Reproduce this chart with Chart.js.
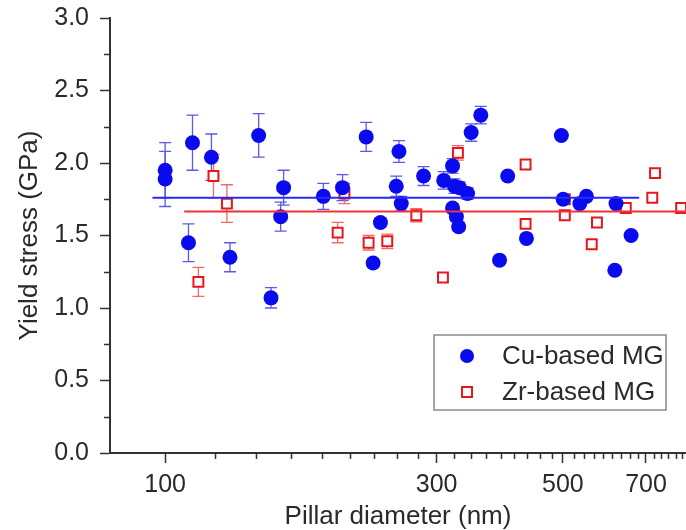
<!DOCTYPE html>
<html><head><meta charset="utf-8">
<script src="https://cdn.jsdelivr.net/npm/chart.js@4.4.0/dist/chart.umd.min.js"></script>
<style>html,body{margin:0;padding:0;background:#fff;overflow:hidden}</style>
</head><body>
<canvas id="c" width="686" height="530"></canvas>
<script>
// ---- data ----
const cuDiameter = [100, 100, 111.7, 120.6, 109.9, 130, 146, 161.5, 159.6, 153.5, 189.7, 205, 225.6, 257.6, 254.8, 260, 239, 232, 284.6, 308.7, 320, 358.7, 345, 322.5, 329, 340, 320, 325, 328, 400, 387, 431.5, 497, 500.6, 535.6, 550, 620, 659, 617];
const cuStress   = [1.95, 1.89, 2.14, 2.04, 1.45, 1.35, 2.19, 1.83, 1.63, 1.07, 1.77, 1.83, 2.18, 2.08, 1.84, 1.72, 1.59, 1.31, 1.91, 1.88, 1.98, 2.33, 2.21, 1.84, 1.83, 1.79, 1.69, 1.63, 1.56, 1.91, 1.33, 1.48, 2.19, 1.75, 1.72, 1.77, 1.72, 1.50, 1.26];
const cuError    = [0.19, 0.19, 0.19, 0.16, 0.13, 0.10, 0.15, 0.12, 0.10, 0.07, 0.09, 0.09, 0.10, 0.075, 0.07, 0.05, 0.03, 0.03, 0.065, 0.06, 0.05, 0.06, 0.06, 0.05, 0.04, 0.04, 0.03, 0.03, 0.03, 0, 0, 0, 0, 0, 0, 0, 0, 0, 0];

const zrDiameter = [121.6, 128.4, 114.4, 201, 206.6, 227.8, 245.7, 276.3, 307.8, 327, 430, 430, 504, 504, 574, 562, 645, 726, 718, 807];
const zrStress   = [1.91, 1.72, 1.18, 1.52, 1.79, 1.45, 1.46, 1.64, 1.21, 2.07, 1.99, 1.58, 1.75, 1.64, 1.59, 1.44, 1.69, 1.93, 1.76, 1.69];
const zrError    = [0.15, 0.13, 0.10, 0.07, 0.07, 0.05, 0.05, 0.045, 0, 0.05, 0, 0, 0, 0, 0, 0, 0, 0, 0, 0];

const cuMeanX = [95, 681];   const cuMeanY = [1.76, 1.76];
const zrMeanX = [108, 823];  const zrMeanY = [1.665, 1.665];

const xTickValues = [100, 300, 500, 700];
const xMinorTicks = [122.2,144.4,166.7,188.9,211.1,233.3,255.6,277.8, 322.2,344.4,366.7,388.9,411.1,433.3,455.6,477.8, 522.2,544.4,566.7,588.9,611.1,633.3,655.6,677.8, 722.2,744.4,766.7,788.9,811.1];
const yTickValues = [0, 0.5, 1.0, 1.5, 2.0, 2.5, 3.0];
const yMinorTicks = [0.25, 0.75, 1.25, 1.75, 2.25, 2.75];

const seriesLabels = ['Cu-based MG', 'Zr-based MG'];

// ---- styles ----
const FONT = '"Liberation Sans", Arial, sans-serif';
const TXT = '#2a2a2a';
const BLUE = '#0a0aee';
const RED = '#e8161c';

const pts = (xs, ys) => xs.map((v, i) => ({x: v, y: ys[i]}));

const errorBars = {
  id: 'errorBars',
  beforeDatasetsDraw(chart) {
    const {ctx, scales: {x, y}} = chart;
    chart.data.datasets.forEach(ds => {
      if (!ds.errors) return;
      ctx.save();
      ctx.strokeStyle = ds.errorColor;
      ctx.lineWidth = 1.3;
      ds.data.forEach((p, i) => {
        const e = ds.errors[i];
        if (!e) return;
        const px = x.getPixelForValue(p.x);
        const y1 = y.getPixelForValue(p.y + e), y2 = y.getPixelForValue(p.y - e);
        ctx.beginPath();
        ctx.moveTo(px, y1); ctx.lineTo(px, y2);
        ctx.moveTo(px - 6, y1); ctx.lineTo(px + 6, y1);
        ctx.moveTo(px - 6, y2); ctx.lineTo(px + 6, y2);
        ctx.stroke();
      });
      ctx.restore();
    });
  }
};

const minorTicks = {
  id: 'minorTicks',
  afterDraw(chart) {
    const {ctx, scales: {x, y}, chartArea} = chart;
    ctx.save();
    ctx.strokeStyle = '#333';
    ctx.lineWidth = 1.5;
    ctx.beginPath();
    xMinorTicks.forEach(v => {
      const px = Math.round(x.getPixelForValue(v)) + 0.5;
      if (px > chartArea.right) return;
      ctx.moveTo(px, chartArea.bottom); ctx.lineTo(px, chartArea.bottom + 6);
    });
    yMinorTicks.forEach(v => {
      const py = Math.round(y.getPixelForValue(v)) + 0.5;
      ctx.moveTo(chartArea.left - 6, py); ctx.lineTo(chartArea.left, py);
    });
    ctx.stroke();
    ctx.restore();
  }
};

const boxLegend = {
  id: 'boxLegend',
  afterDraw(chart) {
    const {ctx, chartArea} = chart;
    const bx = chartArea.right - 252, by = chartArea.bottom - 118, bw = 232, bh = 75;
    ctx.save();
    ctx.fillStyle = '#fff';
    ctx.fillRect(bx, by, bw, bh);
    ctx.strokeStyle = '#8a8a8a';
    ctx.lineWidth = 1.5;
    ctx.strokeRect(bx, by, bw, bh);
    const ds = [chart.data.datasets[2], chart.data.datasets[3]];
    const rows = [by + 21, by + 57];
    ds.forEach((d, i) => {
      const cx = bx + 33, cy = rows[i];
      if (d.pointStyle === 'circle') {
        ctx.fillStyle = d.backgroundColor;
        ctx.beginPath(); ctx.arc(cx, cy, 7, 0, Math.PI * 2); ctx.fill();
      } else {
        ctx.strokeStyle = d.borderColor; ctx.lineWidth = 2;
        ctx.fillStyle = '#fff';
        ctx.fillRect(cx - 5, cy - 5, 10, 10);
        ctx.strokeRect(cx - 5, cy - 5, 10, 10);
      }
      ctx.fillStyle = TXT;
      ctx.font = '26px ' + FONT;
      ctx.textBaseline = 'middle';
      ctx.textAlign = 'left';
      ctx.fillText(d.label, bx + 68, cy + 1);
    });
    ctx.restore();
  }
};

new Chart(document.getElementById('c'), {
  type: 'scatter',
  data: {
    datasets: [
      {label: 'Cu mean', data: pts(cuMeanX, cuMeanY), showLine: true, borderColor: '#2a2af2', borderWidth: 2, pointRadius: 0, clip: false},
      {label: 'Zr mean', data: pts(zrMeanX, zrMeanY), showLine: true, borderColor: '#f03236', borderWidth: 2, pointRadius: 0, clip: false},
      {label: seriesLabels[0], data: pts(cuDiameter, cuStress), errors: cuError, errorColor: '#5a5ae6',
       pointStyle: 'circle', pointRadius: 7.5, backgroundColor: BLUE, borderColor: BLUE, borderWidth: 0, clip: false},
      {label: seriesLabels[1], data: pts(zrDiameter, zrStress), errors: zrError, errorColor: '#f06a6a',
       pointStyle: 'rect', pointRadius: 7, backgroundColor: '#fff', borderColor: RED, borderWidth: 2, clip: false}
    ]
  },
  options: {
    responsive: false, animation: false, devicePixelRatio: 1,
    layout: {autoPadding: false, padding: {left: 0, right: 0, top: 18, bottom: 0}},
    plugins: {legend: {display: false}, tooltip: {enabled: false}},
    scales: {
      x: {
        type: 'logarithmic', min: 80, max: 823,
        afterBuildTicks: s => { s.ticks = xTickValues.map(v => ({value: v})); },
        afterFit: s => { s.height = 77; s.paddingLeft = 0; s.paddingRight = 0; },
        ticks: {callback: v => String(v), font: {family: FONT, size: 25}, color: TXT, padding: 7, autoSkip: false, maxRotation: 0},
        grid: {drawOnChartArea: false, tickLength: 10, tickColor: '#333', tickWidth: 1.5},
        border: {color: '#333', width: 2},
        title: {display: true, text: 'Pillar diameter (nm)', font: {family: FONT, size: 26, lineHeight: 1.0}, color: TXT, padding: {top: 0, bottom: 0}}
      },
      y: {
        min: 0, max: 3,
        afterBuildTicks: s => { s.ticks = yTickValues.map(v => ({value: v})); },
        afterFit: s => { s.width = 110; s.paddingTop = 0; s.paddingBottom = 0; },
        ticks: {callback: v => Number(v).toFixed(1), font: {family: FONT, size: 25}, color: TXT, padding: 11},
        grid: {drawOnChartArea: false, tickLength: 10, tickColor: '#333', tickWidth: 1.5},
        border: {color: '#333', width: 2},
        title: {display: true, text: 'Yield stress (GPa)', font: {family: FONT, size: 26, lineHeight: 1.0}, color: TXT, padding: {top: 17, bottom: 0}}
      }
    }
  },
  plugins: [errorBars, minorTicks, boxLegend]
});
</script>
</body></html>
